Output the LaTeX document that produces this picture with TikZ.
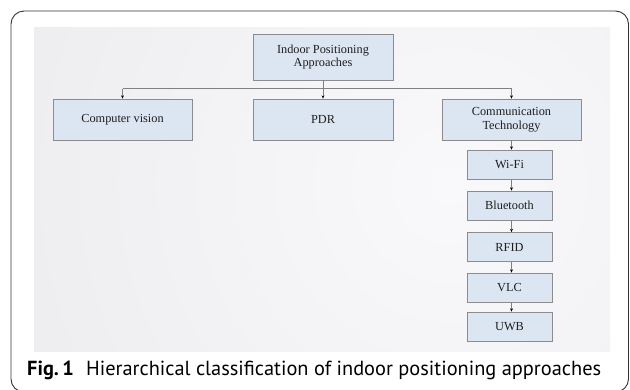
\documentclass[tikz,border=0pt]{standalone}
\usepackage{fontspec}
\setmainfont{Liberation Serif}
\newfontfamily\capfont{PT Sans}
\usetikzlibrary{arrows.meta}
\definecolor{boxfill}{HTML}{DCE6F2}
\definecolor{boxline}{HTML}{8C8C8C}
\definecolor{conn}{HTML}{808080}
\definecolor{panelin}{HTML}{F9F8FA}
\definecolor{panelout}{HTML}{E3E2E4}
\definecolor{txt}{HTML}{1E1E1E}
\tikzset{
  box/.style={draw=boxline, line width=0.8pt, fill=boxfill, inner sep=0pt, align=center,
    text=txt, font=\fontsize{12.3}{13.8}\selectfont},
  bigbox/.style={box, minimum width=139pt, minimum height=41pt},
  chainbox/.style={box, minimum width=85pt, minimum height=29pt},
  conline/.style={draw=conn, line width=0.9pt},
  arr/.style={conline, -{Stealth[length=3.2pt, width=2.8pt, color=black, fill=black]}},
}
\begin{document}
\begin{tikzpicture}[x=1pt, y=-1pt]
\useasboundingbox (0,0) rectangle (630,389);
\clip (0,0) rectangle (630,389);
% outer frame
\draw[draw=black!80, line width=0.9pt, rounded corners=13pt] (11,11) rectangle (628.5,392);
% gray panel
\begin{scope}
  \clip (34,27) rectangle (610,351);
  \fill[panelout] (34,27) rectangle (610,351);
  \shade[inner color=panelin, outer color=panelout] (450,185) circle (860);
\end{scope}
% nodes
\node[box, minimum width=140pt, minimum height=46pt] (top) at (323,57) {Indoor Positioning\\Approaches};
\node[bigbox] (cv) at (122.5,119.5) {Computer vision};
\node[bigbox, minimum width=140pt] (pdr) at (323,119.5) {PDR};
\node[bigbox] (comm) at (511.5,119.5) {Communication\\Technology};
\node[chainbox] (wifi) at (509.5,164.5) {Wi-Fi};
\node[chainbox] (bt) at (509.5,205.5) {Bluetooth};
\node[chainbox] (rfid) at (509.5,247) {RFID};
\node[chainbox] (vlc) at (509.5,287.5) {VLC};
\node[chainbox] (uwb) at (509.5,326.5) {UWB};
% connectors
\coordinate (hl) at (122.5,88.5);
\coordinate (hr) at (511.5,88.5);
\draw[conline] (hl) -- (hr);
\draw[arr] (top.south) -- (pdr.north);
\draw[arr] (hl) -- (hl |- cv.north);
\draw[arr] (hr) -- (hr |- comm.north);
\draw[arr] (comm.south -| hr) -- (hr |- wifi.north);
\draw[arr] (wifi.south -| hr) -- (hr |- bt.north);
\draw[arr] (bt.south -| hr) -- (hr |- rfid.north);
\draw[arr] (rfid.south -| hr) -- (hr |- vlc.north);
\draw[arr] (vlc.south -| hr) -- (hr |- uwb.north);
% caption
\node[anchor=base west, inner sep=0pt, text=black] (cap) at (27,375)
  {\resizebox{574pt}{!}{\capfont\textbf{Fig.\,1}\hspace{0.6em}Hierarchical classification of indoor positioning approaches}};
\end{tikzpicture}
\end{document}
